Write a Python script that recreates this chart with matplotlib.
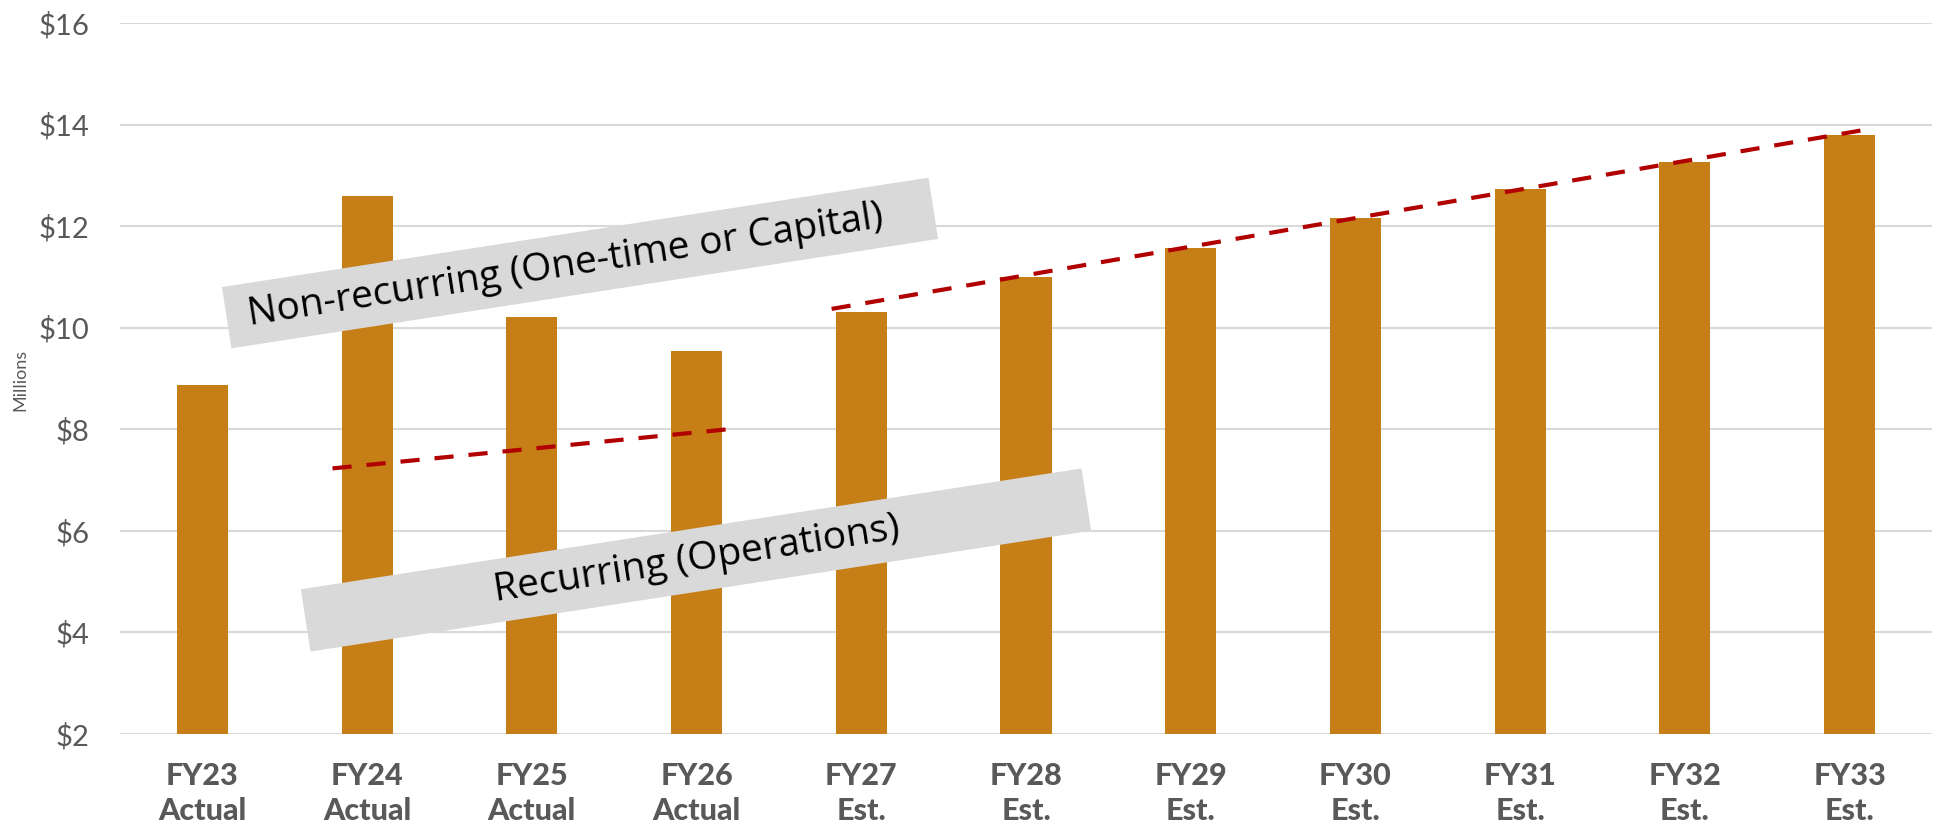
import numpy as np
import matplotlib
matplotlib.use("Agg")
import matplotlib.pyplot as plt
from matplotlib.patches import Polygon

plt.rcParams['font.family'] = ['Lato', 'DejaVu Sans']

# ---- data ----
years = ["FY23", "FY24", "FY25", "FY26", "FY27", "FY28",
         "FY29", "FY30", "FY31", "FY32", "FY33"]
kinds = ["Actual", "Actual", "Actual", "Actual", "Est.", "Est.",
         "Est.", "Est.", "Est.", "Est.", "Est."]
values = [8.87, 12.59, 10.21, 9.55, 10.30, 10.99,
          11.57, 12.16, 12.74, 13.27, 13.79]

# trend lines (x in category units, y in $M)
upper_trend_x = [3.82, 10.08]
upper_trend_y = [10.37, 13.89]
lower_trend_x = [0.79, 3.22]
lower_trend_y = [7.23, 8.01]

BAR = "#C67F17"
RED = "#B00000"
GREY = "#595959"

W, H = 1942, 825
fig = plt.figure(figsize=(W / 100, H / 100), dpi=100)
ax = fig.add_axes([120 / W, 1 - 734 / H, (1932 - 120) / W, (734 - 23) / H])

x = np.arange(len(years))
ax.bar(x, values, width=0.31, color=BAR, zorder=3)

ax.plot(upper_trend_x, upper_trend_y, color=RED, lw=3.0,
        linestyle=(0, (4.6, 3.6)), dash_capstyle="butt", zorder=4)
ax.plot(lower_trend_x, lower_trend_y, color=RED, lw=3.0,
        linestyle=(0, (4.6, 3.6)), dash_capstyle="butt", zorder=4)

ax.set_xlim(-0.5, len(years) - 0.5)
ax.set_ylim(2, 16)
ax.set_yticks(np.arange(2, 17, 2))
ax.set_yticklabels([f"${v}" for v in range(2, 17, 2)], fontsize=21, color=GREY)
ax.set_xticks(x)
ax.set_xticklabels([f"{a}\n{b}" for a, b in zip(years, kinds)],
                   fontsize=22, fontweight="black", color=GREY, linespacing=1.3)
ax.tick_params(axis="both", length=0)
ax.tick_params(axis="y", pad=22)
ax.tick_params(axis="x", pad=20)
ax.grid(axis="y", color="#D9D9D9", lw=1.5, zorder=0)
ax.set_axisbelow(True)
for s in ax.spines.values():
    s.set_visible(False)

fig.text(20 / W, 1 - 380 / H, "Millions", rotation=90, fontsize=13,
         color=GREY, ha="center", va="center")


# rotated grey label boxes (pixel geometry -> figure fraction)
def label_box(cx, cy, length, thick, angle, text, tx, ty):
    a = np.deg2rad(angle)
    u = np.array([np.cos(a), -np.sin(a)])   # along (pixel, y down)
    v = np.array([np.sin(a), np.cos(a)])    # across
    c = np.array([cx, cy])
    pts = [c - u * length / 2 - v * thick / 2, c + u * length / 2 - v * thick / 2,
           c + u * length / 2 + v * thick / 2, c - u * length / 2 + v * thick / 2]
    pts = [(p[0] / W, 1 - p[1] / H) for p in pts]
    fig.patches.append(Polygon(pts, closed=True, facecolor="#D9D9D9",
                               edgecolor="none", transform=fig.transFigure,
                               zorder=5))
    fig.text(tx / W, 1 - ty / H, text, rotation=angle, rotation_mode="anchor",
             ha="center", va="center", fontsize=28, color="black", zorder=6,
             family=["Open Sans", "DejaVu Sans"])


label_box(580, 263, 715, 62, 8.8, "Non-recurring (One-time or Capital)", 566, 266)
label_box(696, 560, 790, 63, 8.8, "Recurring (Operations)", 697, 560)

fig.savefig("out.png", dpi=100)
